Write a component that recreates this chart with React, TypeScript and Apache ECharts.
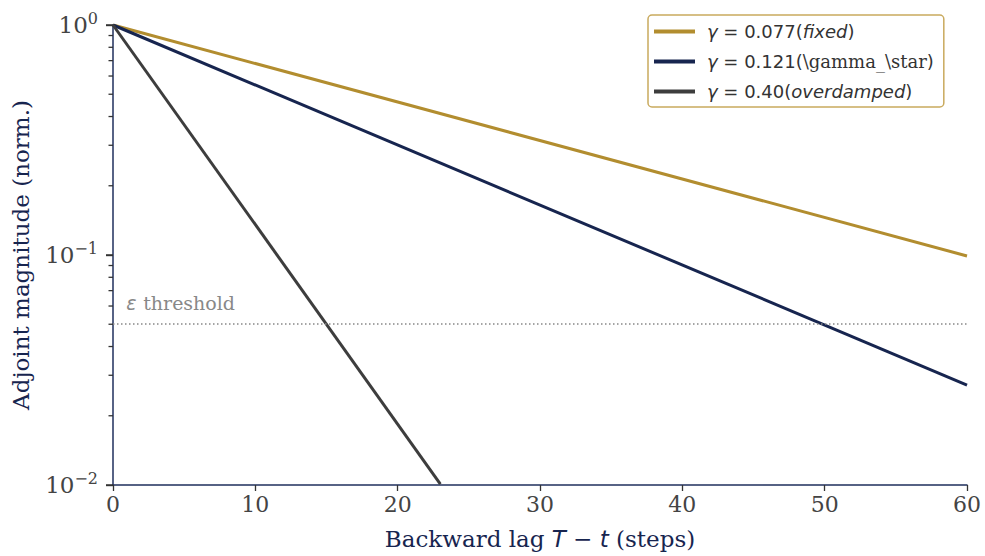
import React, { useEffect, useRef } from "react";
import * as echarts from "echarts";

const lagSteps = [0, 60];
const fixedValues = [1, 0.099];
const starValues = [1, 0.0272];
const overLag = [0, 23];
const overValues = [1, 0.0101];
const thresholdValue = 0.05;
const xTicks = [0, 10, 20, 30, 40, 50, 60];
const yMajorTicks = [0.01, 0.1, 1];
const yMinorTicks = [0.02, 0.03, 0.04, 0.05, 0.06, 0.07, 0.08, 0.09, 0.2, 0.3, 0.4, 0.5, 0.6, 0.7, 0.8, 0.9];

const GOLD = "#b28d2f";
const NAVY = "#17254f";
const DARK = "#3d3d3d";
const AXIS = "#1f2f5c";
const SERIF = "DejaVu Serif";
const SANS = "DejaVu Sans";

const legendLabels: Record<string, string> = {
  fixed: "{gi|γ}{n| = 0.077(}{it|fixed}{n|)}",
  star: "{gi|γ}{n| = 0.121(}{sf|\\gamma_\\star}{n|)}",
  over: "{gi|γ}{n| = 0.40(}{it|overdamped}{n|)}",
};

export default function App() {
  const ref = useRef<HTMLDivElement>(null);
  useEffect(() => {
    if (!ref.current) return;
    const chart = echarts.init(ref.current, undefined, { renderer: "svg" });
    const mk = (xs: number[], ys: number[]) => xs.map((x, i) => [x, ys[i]]);
    const lineBase = (name: string, color: string, data: number[][]) => ({
      name,
      type: "line",
      data,
      symbol: "none",
      clip: true,
      lineStyle: { color, width: 3 },
      itemStyle: { color },
    });
    const superFmt = (v: number) => {
      const e = Math.round(Math.log10(v));
      const s = e < 0 ? "−" + String(-e) : String(e);
      return `{b|10}{s|${s}}`;
    };
    chart.setOption({
      animation: false,
      grid: { left: 113, right: 18, top: 25, bottom: 71, containLabel: false },
      legend: {
        orient: "vertical",
        left: 648,
        top: 15,
        padding: [6, 10, 5, 6],
        itemGap: 9,
        itemWidth: 41,
        itemHeight: 4,
        icon: "rect",
        backgroundColor: "#ffffff",
        borderColor: "#c9aa5e",
        borderWidth: 1.5,
        borderRadius: 4,
        data: ["fixed", "star", "over"],
        formatter: (name: string) => legendLabels[name],
        textStyle: {
          fontFamily: SANS,
          fontSize: 18,
          color: "#333",
          lineHeight: 21,
          padding: [0, 0, 0, 7],
          rich: {
            n: { fontFamily: SANS, fontSize: 18, color: "#333" },
            gi: { fontFamily: SANS, fontSize: 18, fontStyle: "italic", color: "#333" },
            it: { fontFamily: SANS, fontSize: 18, fontStyle: "italic", color: "#333" },
            sf: { fontFamily: SERIF, fontSize: 18, color: "#333" },
          },
        },
      },
      xAxis: {
        type: "value",
        min: 0,
        max: 60,
        interval: 10,
        name: "Backward lag {i|T} − {i|t} (steps)",
        nameLocation: "middle",
        nameGap: 42,
        nameTextStyle: {
          fontFamily: SERIF,
          fontSize: 23,
          color: NAVY,
          rich: { i: { fontFamily: SANS, fontStyle: "italic", fontSize: 23, color: NAVY } },
        },
        axisLine: { show: true, lineStyle: { color: AXIS, width: 1.5 } },
        axisTick: { show: true, length: 6, lineStyle: { color: "#333", width: 1.3 } },
        axisLabel: {
          fontFamily: SERIF,
          fontSize: 22,
          color: "#444",
          margin: 8,
          formatter: (v: number) => (xTicks.includes(v) ? String(v) : ""),
        },
        splitLine: { show: false },
      },
      yAxis: {
        type: "log",
        logBase: 10,
        min: 0.01,
        max: 1,
        name: "Adjoint magnitude (norm.)",
        nameLocation: "middle",
        nameGap: 81,
        nameTextStyle: { fontFamily: SERIF, fontSize: 23, color: NAVY },
        axisLine: { show: true, lineStyle: { color: AXIS, width: 1.5 } },
        axisTick: { show: true, length: 7, lineStyle: { color: "#333", width: 1.4 } },
        axisLabel: {
          margin: 15,
          formatter: superFmt,
          rich: {
            b: { fontFamily: SERIF, fontSize: 23, color: "#444" },
            s: { fontFamily: SERIF, fontSize: 16, color: "#444", padding: [0, 0, 13, 0] },
          },
        },
        splitLine: { show: false },
      },
      series: [
        {
          ...lineBase("fixed", GOLD, mk(lagSteps, fixedValues)),
        },
        {
          ...lineBase("star", NAVY, mk(lagSteps, starValues)),
        },
        {
          ...lineBase("over", DARK, mk(overLag, overValues)),
          markLine: {
            silent: true,
            symbol: "none",
            label: { show: false },
            lineStyle: { color: "#888", width: 1.5, type: [1.5, 2.5] },
            data: [{ yAxis: thresholdValue }],
          },
        },
      ],
    });

    const graphics: any[] = [];
    yMinorTicks.forEach((v) => {
      const p = chart.convertToPixel({ gridIndex: 0 }, [0, v]) as number[];
      graphics.push({
        type: "rect",
        shape: { x: p[0] - 4.5, y: p[1] - 0.65, width: 4.5, height: 1.3 },
        style: { fill: "#333" },
        silent: true,
        z: 10,
      });
    });
    yMajorTicks.forEach((v) => {
      const p = chart.convertToPixel({ gridIndex: 0 }, [0, v]) as number[];
      graphics.push({
        type: "rect",
        shape: { x: p[0] - 7, y: p[1] - 0.75, width: 7, height: 1.5 },
        style: { fill: "#333" },
        silent: true,
        z: 10,
      });
    });
    const tp = chart.convertToPixel({ gridIndex: 0 }, [1, thresholdValue]) as number[];
    graphics.push({
      type: "text",
      x: tp[0] - 1,
      y: tp[1] - 21,
      style: {
        text: "{e|ε}  {t|threshold}",
        verticalAlign: "middle",
        rich: {
          e: { fontFamily: SANS, fontStyle: "italic", fontSize: 19, fill: "#888" },
          t: { fontFamily: SERIF, fontSize: 19, fill: "#888" },
        },
      },
      silent: true,
    });
    chart.setOption({ graphic: graphics });

    return () => chart.dispose();
  }, []);
  return <div ref={ref} style={{ position: "fixed", left: 0, top: 0, width: 985, height: 556, background: "#fff" }} />;
}
